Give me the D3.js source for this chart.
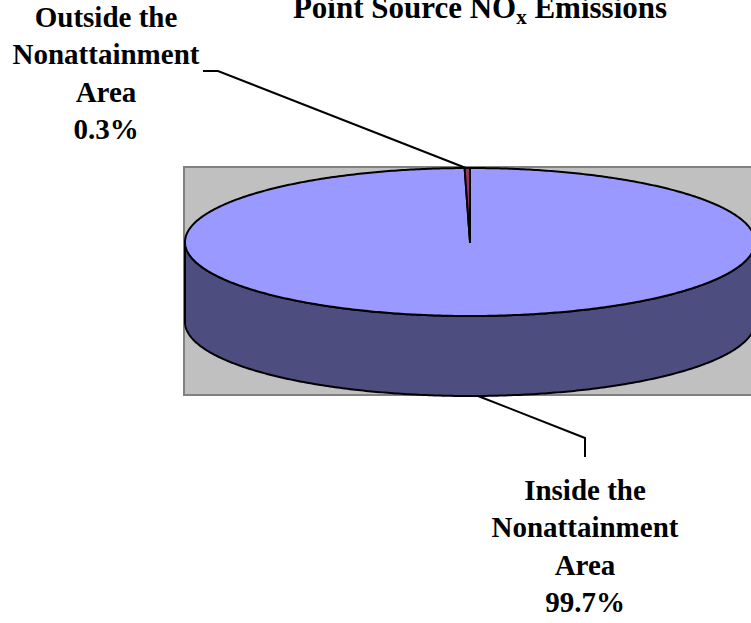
<!DOCTYPE html>
<html>
<head>
<meta charset="utf-8">
<script src="https://cdn.jsdelivr.net/npm/d3@7"></script>
<style>
  html, body { margin: 0; padding: 0; background: #fff; }
  svg { display: block; }
  text { font-family: "Liberation Serif", "Times New Roman", serif; font-weight: bold; fill: #000; }
</style>
</head>
<body>
<svg id="chart" width="751" height="623"></svg>
<script>
// Share of point source NOx emissions by area
const categories = ["Inside the Nonattainment Area", "Outside the Nonattainment Area"];
const values = [99.7, 0.3];
const labelLines = [
  ["Inside the", "Nonattainment", "Area", "99.7%"],
  ["Outside the", "Nonattainment", "Area", "0.3%"]
];
const topColors = ["#9999ff", "#993366"];
const sideColors = ["#4d4d80", "#4d1a33"];

const svg = d3.select("#chart");

// Title with subscript x
const title = svg.append("text")
  .attr("x", 480).attr("y", 18)
  .attr("text-anchor", "middle")
  .style("font-size", "31px");
title.append("tspan").text("Point Source NO");
title.append("tspan").attr("dy", 6).style("font-size", "21px").text("x");
title.append("tspan").attr("dy", -6).text(" Emissions");

// Plot area background
svg.append("rect")
  .attr("x", 184).attr("y", 167)
  .attr("width", 620).attr("height", 228)
  .attr("fill", "#c0c0c0")
  .attr("stroke", "#808080").attr("stroke-width", 2);

// Pie geometry (tilted disc)
const cx = 470, cy = 242, rx = 285, ry = 74, depth = 80;
const proj = (a, dz = 0) => [cx + rx * Math.sin(a), cy - ry * Math.cos(a) + dz];

const arcs = d3.pie().sort(null).value(d => d)(values);
const line = d3.line();
const sample = (a0, a1, dz) => {
  const n = Math.max(2, Math.ceil(Math.abs(a1 - a0) / 0.01));
  return d3.range(n + 1).map(i => proj(a0 + (a1 - a0) * i / n, dz));
};

const g = svg.append("g");

// Front side walls
arcs.forEach((d, i) => {
  const a0 = Math.max(d.startAngle, Math.PI / 2);
  const a1 = Math.min(d.endAngle, 3 * Math.PI / 2);
  if (a1 <= a0) return;
  const pts = sample(a0, a1, 0).concat(sample(a1, a0, depth));
  g.append("path")
    .attr("d", line(pts) + "Z")
    .attr("fill", sideColors[i])
    .attr("stroke", "#000").attr("stroke-width", 2)
    .attr("stroke-linejoin", "round");
});

// Top faces
arcs.forEach((d, i) => {
  const pts = [[cx, cy]].concat(sample(d.startAngle, d.endAngle, 0));
  g.append("path")
    .attr("d", line(pts) + "Z")
    .attr("fill", topColors[i])
    .attr("stroke", "#000").attr("stroke-width", 2)
    .attr("stroke-linejoin", "round");
});

// Data labels with leader lines
const labelPos = [
  { x: 585, y: 500, leader: (p) => [p, [585, 438], [585, 457]], anchor: () => proj(Math.PI - 0.028, depth) },
  { x: 106, y: 27, leader: (p) => [p, [218, 71], [203, 71]], anchor: (d) => proj((d.startAngle + d.endAngle) / 2 - 0.005, 0) }
];

arcs.forEach((d, i) => {
  const lp = labelPos[i];
  const p = lp.anchor(d);
  svg.append("path")
    .attr("d", line(lp.leader(p)))
    .attr("fill", "none")
    .attr("stroke", "#000").attr("stroke-width", 2);
  const t = svg.append("text")
    .attr("text-anchor", "middle")
    .style("font-size", "29px");
  labelLines[i].forEach((s, k) => {
    t.append("tspan").attr("x", lp.x).attr("y", lp.y + k * 37.3).text(s);
  });
});
</script>
</body>
</html>
